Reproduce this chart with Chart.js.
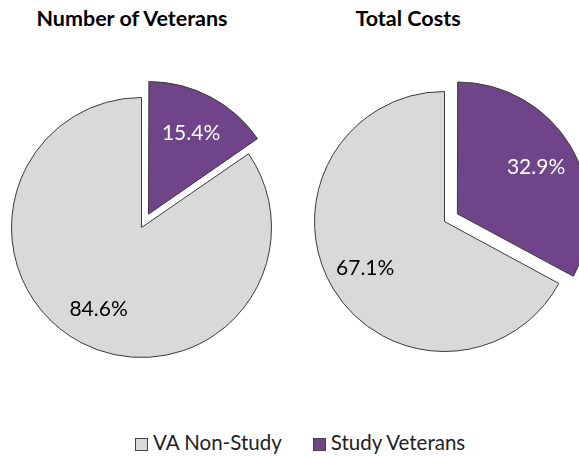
<!DOCTYPE html>
<html>
<head>
<meta charset="utf-8">
<script src="https://cdn.jsdelivr.net/npm/chart.js@4"></script>
<style>
  html, body { margin: 0; padding: 0; background: #fff; }
  body { width: 579px; height: 457px; overflow: hidden; position: relative; font-family: Lato, sans-serif; }
  .title { position: absolute; top: 8px; line-height: 1; font-weight: bold; font-size: 21.5px; color: #000; white-space: nowrap; transform: translateX(-50%); }
  .pie { position: absolute; width: 321px; height: 321px; }
  #legend { position: absolute; left: 135px; top: 432px; line-height: 1; font-size: 20.5px; color: #222; white-space: nowrap; }
  #legend span.item { margin-right: 31px; }
  #legend span.box { display: inline-block; width: 11px; height: 11px; border: 1px solid #444; margin-right: 5px; vertical-align: -1px; }
</style>
</head>
<body>
<div class="title" style="left:132px">Number of Veterans</div>
<div class="title" style="left:408px">Total Costs</div>
<div class="pie" style="left:-19px; top:67px"><canvas id="pieVeterans"></canvas></div>
<div class="pie" style="left:284px; top:61px"><canvas id="pieCosts"></canvas></div>
<div id="legend"></div>

<script>
const categories = ["VA Non-Study", "Study Veterans"];
const colors = ["#d9d9d9", "#704489"];
const veteranShares = [84.6, 15.4];
const costShares = [67.1, 32.9];
const labelColors = ["#000000", "#ffffff"];

// where the label sits along the radius, per slice
const labelRadius = [0.71, 0.82];

const pctLabels = {
    id: "pctLabels",
    afterDatasetsDraw(chart) {
        const ctx = chart.ctx;
        const meta = chart.getDatasetMeta(0);
        const ds = chart.data.datasets[0];
        ctx.save();
        ctx.font = "21px Lato, sans-serif";
        ctx.textAlign = "center";
        ctx.textBaseline = "middle";
        meta.data.forEach((arc, i) => {
            const p = arc.getProps(["x", "y", "startAngle", "endAngle", "outerRadius"], true);
            const mid = (p.startAngle + p.endAngle) / 2;
            const r = p.outerRadius * ds.labelRadius[i];
            ctx.fillStyle = ds.labelColors[i];
            ctx.fillText(ds.data[i].toFixed(1) + "%", p.x + Math.cos(mid) * r, p.y + Math.sin(mid) * r);
        });
        ctx.restore();
    }
};

function makePie(id, values) {
    // study slice first so it starts at 12 o'clock and runs clockwise
    const order = [1, 0];
    const ctx = document.getElementById(id).getContext("2d");
    return new Chart(ctx, {
        type: "pie",
        data: {
            labels: order.map(i => categories[i]),
            datasets: [{
                data: order.map(i => values[i]),
                backgroundColor: order.map(i => colors[i]),
                borderColor: "#3a3a3a",
                borderWidth: 1,
                // chart.js moves an arc by offset/4
                offset: [60, 0],
                labelColors: order.map(i => labelColors[i]),
                labelRadius: order.map(i => labelRadius[i])
            }]
        },
        options: {
            responsive: true,
            maintainAspectRatio: false,
            animation: false,
            layout: { padding: 0 },
            plugins: {
                legend: { display: false },
                tooltip: { enabled: false }
            }
        },
        plugins: [pctLabels]
    });
}

makePie("pieVeterans", veteranShares);
makePie("pieCosts", costShares);

const legend = document.getElementById("legend");
categories.forEach((c, i) => {
    legend.innerHTML += '<span class="item"><span class="box" style="background:' + colors[i] + '"></span>' + c + '</span>';
});
</script>
</body>
</html>
